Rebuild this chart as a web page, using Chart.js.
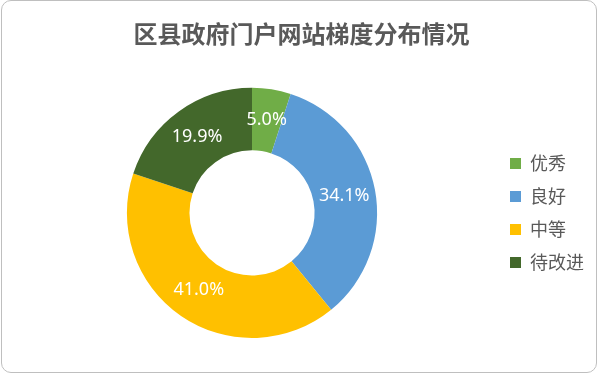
<!DOCTYPE html>
<html>
<head>
<meta charset="utf-8">
<script src="https://cdn.jsdelivr.net/npm/chart.js@4"></script>
<style>
    html, body { margin: 0; padding: 0; background: #fff; }
    #wrap { position: relative; width: 598px; height: 374px; }
    #frame {
        position: absolute; left: 1px; top: 0; width: 594px; height: 371px;
        border: 1px solid #bfbfbf; border-radius: 10px; pointer-events: none;
    }
</style>
</head>
<body>
<div id="wrap">
    <canvas id="gradeChart" width="598" height="374"></canvas>
    <div id="frame"></div>
</div>
<script>
const categories = ['优秀', '良好', '中等', '待改进'];
const shares = [5.0, 34.1, 41.0, 19.9];
const sliceColors = ['#70AD47', '#5B9BD5', '#FFC000', '#43682B'];

// white percent labels in the middle of each ring segment
const sliceLabels = {
    id: 'sliceLabels',
    afterDatasetsDraw(chart) {
        const ctx = chart.ctx;
        const meta = chart.getDatasetMeta(0);
        ctx.save();
        ctx.fillStyle = '#ffffff';
        ctx.font = '18px "Noto Sans", sans-serif';
        ctx.textAlign = 'center';
        ctx.textBaseline = 'middle';
        meta.data.forEach((arc, i) => {
            const p = arc.tooltipPosition();
            ctx.fillText(shares[i].toFixed(1) + '%', p.x, p.y);
        });
        ctx.restore();
    }
};

Chart.defaults.font.family = '"Noto Sans CJK SC", "Noto Sans", sans-serif';
Chart.defaults.color = '#595959';

new Chart(document.getElementById('gradeChart'), {
    type: 'doughnut',
    data: {
        labels: categories,
        datasets: [{
            data: shares,
            backgroundColor: sliceColors,
            borderWidth: 0
        }]
    },
    options: {
        responsive: false,
        animation: false,
        cutout: '50%',
        layout: { padding: { left: 9, right: 4, top: 0, bottom: 36 } },
        plugins: {
            title: {
                display: true,
                text: '区县政府门户网站梯度分布情况',
                color: '#595959',
                font: { size: 24, weight: 'bold' },
                padding: { top: 19, bottom: 40 }
            },
            legend: {
                position: 'right',
                fullSize: false,
                labels: {
                    boxWidth: 11,
                    boxHeight: 11,
                    padding: 15,
                    font: { size: 18 },
                    color: '#595959'
                }
            },
            tooltip: { enabled: false }
        }
    },
    plugins: [sliceLabels]
});
</script>
</body>
</html>
